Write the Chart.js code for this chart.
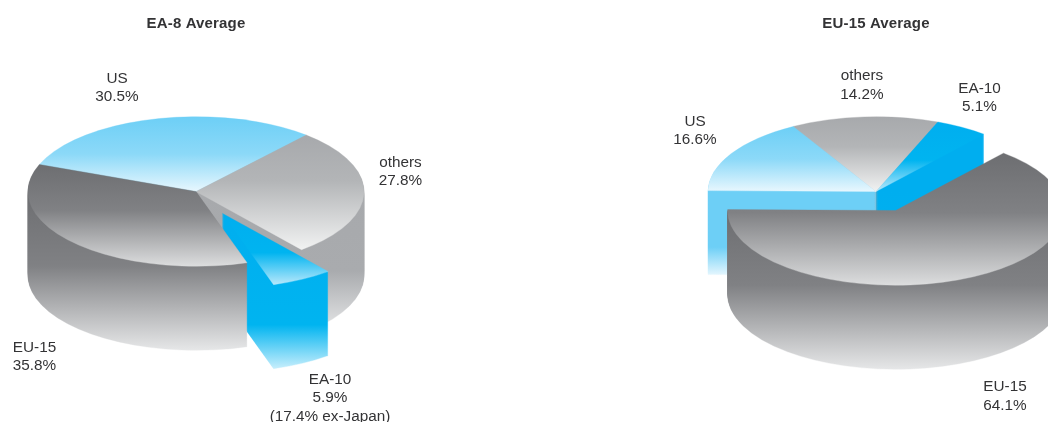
<!DOCTYPE html>
<html>
<head>
<meta charset="utf-8">
<script src="https://cdn.jsdelivr.net/npm/chart.js@4"></script>
<style>
  html, body { margin: 0; padding: 0; background: #fff; overflow: hidden; width: 1048px; height: 422px; }
  canvas { position: absolute; top: 0; }
  #left_pie { left: 0; }
  #right_pie { left: 524px; }
</style>
</head>
<body>
<canvas id="left_pie" width="524" height="422"></canvas>
<canvas id="right_pie" width="704" height="422"></canvas>
<script>
var categories = ['US', 'others', 'EA-10', 'EU-15'];
var leftValues = [30.5, 27.8, 5.9, 35.8];
var rightValues = [16.6, 14.2, 5.1, 64.1];
var leftTitle = 'EA-8 Average';
var rightTitle = 'EU-15 Average';
var leftNote = '(17.4% ex-Japan)';

// pixels pulled out of the pie, per slice
var leftExplode = [0, 0, 56, 0];
var rightExplode = [0, 0, 0, 47];

// back to front
var leftOrder = [0, 1, 2, 3];
var rightOrder = [1, 2, 0, 3];

var leftLabelSpots = [[117, 78.5], [400.5, 162.5], [330, 379.5], [34.5, 347.5]];
var rightLabelSpots = [[695 - 524, 121.5], [862 - 524, 76], [979.5 - 524, 88.5], [1005 - 524, 387]];

var squash = 0.445;
var depth = 84;
var wallRange = 159;

var topStops = [
  [[0, '#6dcff6'], [0.5, '#8cd9f8'], [1, '#e8f7fe']],
  [[0, '#a7a9ac'], [0.4, '#b3b5b7'], [1, '#f1f2f2']],
  [[0, '#00aeef'], [0.55, '#00b4f0'], [1, '#b8e8fb']],
  [[0, '#6d6e71'], [0.45, '#808184'], [1, '#dcddde']]
];
var wallStops = [
  [[0, '#6dcff6'], [0.35, '#6dcff6'], [0.53, '#e8f7fe'], [1, '#e8f7fe']],
  [[0, '#a7a9ac'], [0.5, '#a9abae'], [0.88, '#e6e7e8'], [1, '#e6e7e8']],
  [[0, '#00aeef'], [0.7, '#00b4f0'], [1, '#d8f3fd']],
  [[0, '#6d6e71'], [0.47, '#808184'], [1, '#e6e7e8']]
];

function makeGradient(ctx, y0, y1, stops) {
  var g = ctx.createLinearGradient(0, y0, 0, y1);
  stops.forEach(function(s) { g.addColorStop(s[0], s[1]); });
  return g;
}

function slicePath(ctx, arc) {
  ctx.beginPath();
  ctx.moveTo(arc.x, arc.y);
  ctx.arc(arc.x, arc.y, arc.outerRadius, arc.startAngle, arc.endAngle);
  ctx.closePath();
}

// lowest and highest y of the slice, before squashing
function sliceExtent(arc) {
  var ys = [arc.y,
            arc.y + Math.sin(arc.startAngle) * arc.outerRadius,
            arc.y + Math.sin(arc.endAngle) * arc.outerRadius];
  [-Math.PI / 2, Math.PI / 2, 3 * Math.PI / 2].forEach(function(a) {
    if (a > arc.startAngle && a < arc.endAngle) {
      ys.push(arc.y + Math.sin(a) * arc.outerRadius);
    }
  });
  return [Math.min.apply(null, ys), Math.max.apply(null, ys)];
}

var pie3d = {
  id: 'pie3d',
  beforeDraw: function(chart) {
    // the title is set a little wide in the original
    chart.ctx.letterSpacing = '0.15px';
  },
  beforeDatasetDraw: function(chart) {
    var ctx = chart.ctx;
    var arcs = chart.getDatasetMeta(0).data;
    var opts = chart.options.plugins.pie3d;

    opts.order.forEach(function(i) {
      var arc = arcs[i];
      var mid = (arc.startAngle + arc.endAngle) / 2;
      var dx = Math.cos(mid) * opts.explode[i];
      var dy = Math.sin(mid) * opts.explode[i];

      for (var z = depth; z >= 0; z--) {
        ctx.save();
        ctx.translate(arc.x + dx, arc.y + dy * squash + z);
        ctx.scale(1, squash);
        ctx.translate(-arc.x, -arc.y);
        if (z > 0) {
          // the wall shades with the height on the page, so undo this layer's shift
          var y0 = arc.y - z / squash;
          ctx.fillStyle = makeGradient(ctx, y0, y0 + wallRange / squash, wallStops[i]);
        } else {
          var ext = sliceExtent(arc);
          ctx.fillStyle = makeGradient(ctx, ext[0], ext[1], topStops[i]);
        }
        slicePath(ctx, arc);
        ctx.fill();
        // closes the hairline between neighbouring slices
        ctx.strokeStyle = ctx.fillStyle;
        ctx.lineWidth = 0.5;
        ctx.stroke();
        ctx.restore();
      }
    });
    return false;
  },
  afterDraw: function(chart) {
    var ctx = chart.ctx;
    var opts = chart.options.plugins.pie3d;
    var values = chart.data.datasets[0].data;

    ctx.save();
    ctx.letterSpacing = '0px';
    ctx.fillStyle = '#333335';
    ctx.font = '15.3px "Liberation Sans"';
    ctx.textAlign = 'center';
    ctx.textBaseline = 'middle';
    chart.data.labels.forEach(function(name, i) {
      var spot = opts.labelSpots[i];
      var lines = [name, values[i].toFixed(1) + '%'];
      if (opts.note && name === 'EA-10') {
        lines.push(opts.note);
      }
      lines.forEach(function(line, n) {
        ctx.fillText(line, spot[0], spot[1] + n * 18.7);
      });
    });
    ctx.restore();
  }
};

function renderPie(id, values, title, rotation, paddingRight, order, explode, labelSpots, note) {
  return new Chart(document.getElementById(id), {
    type: 'pie',
    data: {
      labels: categories,
      datasets: [{ data: values, backgroundColor: ['#6dcff6', '#a7a9ac', '#00aeef', '#6d6e71'], borderWidth: 0 }]
    },
    plugins: [pie3d],
    options: {
      responsive: false,
      animation: false,
      radius: 168,
      rotation: rotation,
      layout: { padding: { right: paddingRight, bottom: 74 } },
      events: [],
      plugins: {
        legend: { display: false },
        tooltip: { enabled: false },
        title: {
          display: true,
          text: title,
          fullSize: false,
          color: '#333335',
          font: { family: '"Liberation Sans"', size: 15, weight: 'bold' },
          padding: { top: 15, bottom: 2 }
        },
        pie3d: { order: order, explode: explode, labelSpots: labelSpots, note: note }
      }
    }
  });
}

renderPie('left_pie', leftValues, leftTitle, -68.8, 132, leftOrder, leftExplode, leftLabelSpots, leftNote);
renderPie('right_pie', rightValues, rightTitle, -89.3, 0, rightOrder, rightExplode, rightLabelSpots, null);
</script>
</body>
</html>
